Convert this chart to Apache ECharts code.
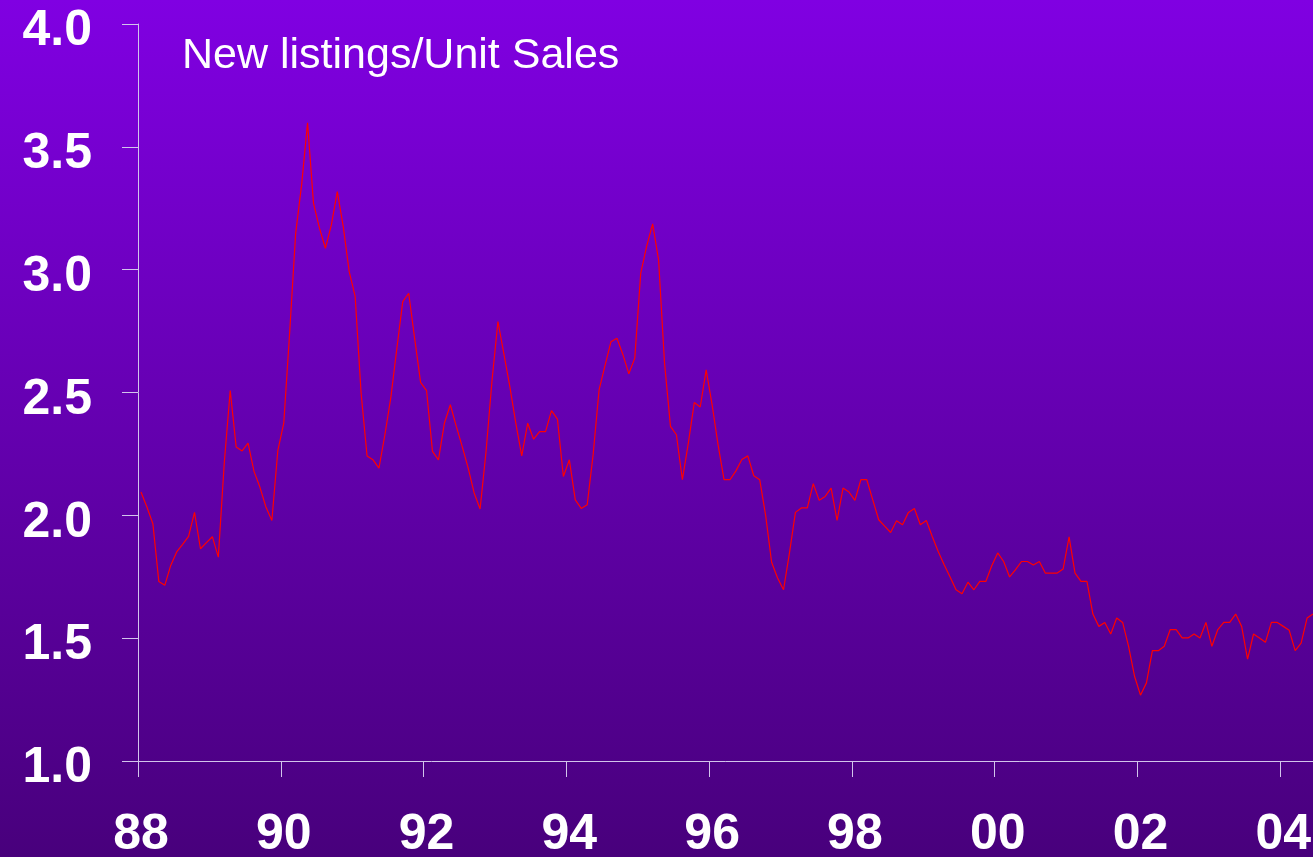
<!DOCTYPE html>
<html>
<head>
<meta charset="utf-8">
<title>New listings/Unit Sales</title>
<script src="https://cdn.jsdelivr.net/npm/echarts@6/dist/echarts.min.js"></script>
<style>
  html, body { margin: 0; padding: 0; width: 1313px; height: 857px; overflow: hidden; }
  #chart { width: 1313px; height: 857px; }
</style>
</head>
<body>
<div id="chart"></div>
<script>
// Ratio of new listings to unit sales, monthly, Jan 1988 - Jun 2004
const firstYear = 1988;
const ratio = [
  2.095, 2.034, 1.966, 1.731, 1.715, 1.796, 1.851, 1.882, 1.914, 2.012, 1.864, 1.889, // 1988
  1.913, 1.830, 2.213, 2.508, 2.278, 2.262, 2.294, 2.179, 2.114, 2.034, 1.979, 2.263, // 1989
  2.375, 2.747, 3.148, 3.345, 3.598, 3.270, 3.169, 3.087, 3.182, 3.318, 3.175, 2.992, // 1990
  2.891, 2.498, 2.242, 2.226, 2.192, 2.328, 2.480, 2.678, 2.870, 2.904, 2.720, 2.541, // 1991
  2.508, 2.260, 2.226, 2.375, 2.450, 2.362, 2.280, 2.192, 2.091, 2.026, 2.260, 2.548, // 1992
  2.789, 2.657, 2.524, 2.375, 2.242, 2.375, 2.310, 2.341, 2.341, 2.426, 2.392, 2.158, // 1993
  2.226, 2.063, 2.028, 2.043, 2.247, 2.511, 2.610, 2.707, 2.721, 2.655, 2.576, 2.640, // 1994
  2.986, 3.096, 3.186, 3.040, 2.620, 2.362, 2.328, 2.145, 2.294, 2.459, 2.441, 2.592, // 1995
  2.450, 2.287, 2.145, 2.145, 2.181, 2.227, 2.242, 2.161, 2.145, 1.999, 1.809, 1.745, // 1996
  1.697, 1.847, 2.012, 2.030, 2.030, 2.129, 2.061, 2.077, 2.111, 1.979, 2.111, 2.095, // 1997
  2.061, 2.145, 2.145, 2.063, 1.982, 1.956, 1.930, 1.978, 1.962, 2.012, 2.028, 1.962, // 1998
  1.979, 1.914, 1.853, 1.799, 1.749, 1.697, 1.681, 1.728, 1.697, 1.731, 1.731, 1.795, // 1999
  1.847, 1.812, 1.749, 1.779, 1.812, 1.812, 1.798, 1.812, 1.765, 1.765, 1.765, 1.782, // 2000
  1.912, 1.765, 1.731, 1.731, 1.598, 1.548, 1.564, 1.517, 1.582, 1.564, 1.467, 1.345, // 2001
  1.268, 1.318, 1.449, 1.449, 1.467, 1.535, 1.535, 1.501, 1.501, 1.517, 1.501, 1.564, // 2002
  1.467, 1.535, 1.564, 1.564, 1.598, 1.548, 1.415, 1.517, 1.501, 1.483, 1.564, 1.564, // 2003
  1.548, 1.532, 1.449, 1.480, 1.582, 1.598                                            // 2004
];

// One category per month, labelled "YYYY-MM"
const months = ratio.map((_, i) => {
  const y = firstYear + Math.floor(i / 12);
  const m = (i % 12) + 1;
  return y + '-' + (m < 10 ? '0' + m : m);
});

// Value axis range and step
const yMin = 1.0;
const yMax = 4.0;
const yStep = 0.5;
// Year ticks every two years
const tickEvery = 24;

const titleText = 'New listings/Unit Sales';
const fontFamily = "'Liberation Sans', Arial, Helvetica, sans-serif";
const axisColor = '#d2c4ec';

const chart = echarts.init(document.getElementById('chart'), null, { renderer: 'canvas' });

chart.setOption({
  animation: false,
  backgroundColor: {
    type: 'linear', x: 0, y: 0, x2: 0, y2: 1,
    colorStops: [
      { offset: 0, color: '#8000e2' },
      { offset: 1, color: '#48007c' }
    ]
  },
  title: {
    text: titleText,
    left: 182,
    top: 35,
    padding: 0,
    textStyle: { color: '#ffffff', fontSize: 43, fontWeight: 'normal', fontFamily: fontFamily }
  },
  grid: {
    left: 138, right: -3, top: 24, bottom: 96,
    containLabel: false,
    outerBoundsMode: 'none'
  },
  xAxis: {
    type: 'category',
    data: months,
    boundaryGap: true,
    axisLine: { show: true, lineStyle: { color: axisColor, width: 1 } },
    axisTick: {
      show: true,
      length: 16,
      interval: (index) => index % tickEvery === 0,
      lineStyle: { color: axisColor, width: 1 }
    },
    axisLabel: {
      interval: (index) => index % tickEvery === 0,
      formatter: (v) => v.slice(2, 4),
      color: '#ffffff',
      fontSize: 50,
      fontWeight: 'bold',
      fontFamily: fontFamily,
      margin: 49
    },
    splitLine: { show: false }
  },
  yAxis: {
    type: 'value',
    min: yMin,
    max: yMax,
    interval: yStep,
    axisLine: { show: true, lineStyle: { color: axisColor, width: 1 } },
    axisTick: { show: true, length: 16, lineStyle: { color: axisColor, width: 1 } },
    axisLabel: {
      formatter: (v) => '{n|' + v.toFixed(1) + '}',
      margin: 46,
      rich: {
        n: {
          color: '#ffffff',
          fontSize: 50,
          fontWeight: 'bold',
          fontFamily: fontFamily,
          padding: [15, 0, 0, 0]
        }
      }
    },
    splitLine: { show: false }
  },
  series: [{
    type: 'line',
    name: titleText,
    data: ratio,
    showSymbol: false,
    symbol: 'none',
    lineStyle: { color: '#ff0000', width: 1.2 },
    emphasis: { disabled: true }
  }]
});
</script>
</body>
</html>
